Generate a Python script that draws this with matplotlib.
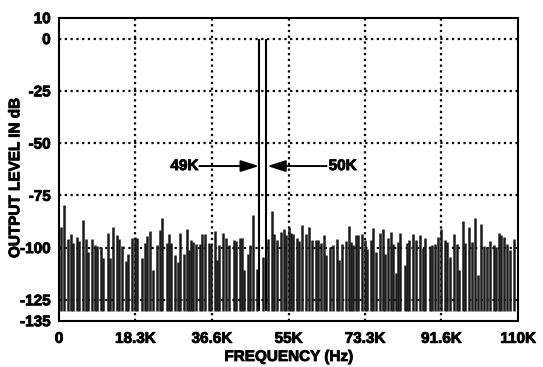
import matplotlib
matplotlib.use("Agg")
import matplotlib.pyplot as plt
import matplotlib.patheffects as pe

plt.rcParams['font.family'] = ['Liberation Sans', 'DejaVu Sans']
plt.rcParams['font.weight'] = 'bold'

# spur frequencies (kHz) and levels (dB)
spur_freq = [
    0.5, 1.3, 2.2, 2.9, 3.4, 4.2, 4.8, 5.8, 6.4, 7.0,
    8.0, 8.5, 9.0, 10.1, 10.6, 11.7, 12.2, 13.0, 13.8, 14.4,
    15.2, 16.1, 16.6, 17.6, 18.3, 18.8, 19.9, 20.5, 21.1, 21.9,
    22.6, 23.5, 24.1, 24.7, 25.8, 26.3, 26.9, 27.9, 28.5, 29.0,
    29.9, 30.6, 31.1, 31.7, 32.2, 32.9, 33.8, 34.3, 34.9, 35.9,
    36.5, 37.4, 37.9, 38.4, 39.4, 40.1, 40.7, 41.8, 42.3, 43.4,
    43.9, 44.4, 45.2, 45.8, 46.4, 47.4, 48.8, 50.1, 51.0, 51.6,
    52.2, 53.2, 53.9, 54.4, 55.1, 55.6, 56.0, 57.0, 57.5, 58.2,
    59.2, 59.8, 60.7, 61.5, 62.0, 62.8, 63.4, 64.0, 64.8, 65.6,
    66.5, 67.1, 67.9, 68.8, 69.5, 70.0, 70.5, 71.2, 71.6, 72.7,
    73.2, 73.7, 74.8, 75.3, 75.9, 76.9, 77.5, 78.0, 78.9, 79.6,
    80.1, 80.7, 81.2, 81.7, 82.8, 83.3, 83.9, 84.9, 85.5, 86.5,
    87.1, 87.7, 88.8, 89.3, 90.0, 90.9, 91.4, 92.4, 93.0, 93.6,
    94.6, 95.3, 95.8, 96.8, 97.3, 98.2, 98.9, 99.6, 100.4, 101.2,
    101.7, 102.5, 103.3, 104.2, 104.8, 105.4, 106.0, 106.6, 107.3, 108.1,
    108.9,
]
spur_db = [
    -90.0, -79.6, -95.7, -93.3, -98.0, -95.0, -97.0, -86.9, -95.7, -102.0,
    -96.0, -99.0, -99.4, -99.7, -105.0, -93.0, -104.8, -90.0, -94.0, -96.0,
    -99.4, -106.4, -103.2, -95.2, -95.0, -95.2, -105.0, -97.6, -94.6, -92.0,
    -110.9, -98.9, -91.7, -85.7, -97.6, -93.3, -97.6, -103.7, -106.9, -92.8,
    -103.2, -91.3, -101.3, -96.2, -97.4, -98.4, -98.1, -93.6, -93.3, -97.8,
    -98.1, -92.1, -105.8, -98.9, -92.8, -95.2, -98.9, -96.5, -96.8, -95.2,
    -95.2, -110.6, -102.9, -98.9, -84.5, -110.1, -104.5, -95.7, -82.4, -93.3,
    -96.5, -92.5, -90.9, -93.8, -90.1, -92.8, -93.3, -95.2, -96.8, -89.3,
    -93.6, -90.1, -96.5, -96.5, -96.5, -97.8, -94.1, -103.7, -99.7, -98.6,
    -95.7, -106.1, -98.1, -96.8, -89.6, -97.4, -98.9, -94.1, -94.1, -93.6,
    -96.5, -100.5, -96.2, -90.5, -102.1, -92.8, -91.2, -102.9, -95.2, -92.5,
    -98.1, -112.2, -97.4, -92.8, -108.5, -97.6, -96.5, -93.3, -96.5, -93.8,
    -100.0, -95.2, -99.2, -98.9, -98.1, -94.9, -91.3, -96.5, -97.4, -104.5,
    -93.3, -98.1, -110.6, -87.2, -97.8, -90.1, -97.3, -85.7, -113.3, -88.8,
    -99.4, -99.7, -96.8, -98.9, -99.7, -92.8, -93.8, -94.9, -98.1, -101.0,
    -95.7,
]

# the two input tones
tone_freq = [48.0, 49.6]
tone_db = [0.0, 0.0]
noise_floor = -130.5

xticks = [0, 18.3, 36.6, 55, 73.3, 91.6, 110]
xtick_labels = ['0', '18.3K', '36.6K', '55K', '73.3K', '91.6K', '110K']
yticks = [10, 0, -25, -50, -75, -100, -125, -135]
grid_y = [0, -25, -50, -75, -100, -125]
grid_x = [18.3, 36.6, 55, 73.3, 91.6]

# a thin outline makes the text look as heavy as the printed original
heavy = [pe.withStroke(linewidth=0.6, foreground='black')]

fig = plt.figure(figsize=(5.43, 3.67), dpi=100)
ax = fig.add_axes([0.1087, 0.1262, 0.8456, 0.8256])

# dotted grid behind the spurs
for gy in grid_y:
    ax.axhline(gy, color='black', lw=1.6, ls=(0, (1, 1.6)), zorder=1)
for gx in grid_x:
    ax.axvline(gx, color='black', lw=1.6, ls=(0, (1, 1.6)), zorder=1)

ax.vlines(spur_freq, noise_floor, spur_db, color='#1c1c1c', lw=1.8, zorder=2)
ax.vlines(tone_freq, noise_floor, tone_db, color='black', lw=1.5, zorder=3)

# arrows pointing at the tones
arrow_kw = dict(arrowstyle='-|>,head_length=1.1,head_width=0.35',
                color='black', lw=1.4, shrinkA=0, shrinkB=0)
ax.annotate('', xy=(tone_freq[0] - 0.1, -61), xytext=(33.6, -61),
            arrowprops=arrow_kw, zorder=4)
ax.annotate('', xy=(tone_freq[1] + 0.3, -61), xytext=(64.1, -61),
            arrowprops=arrow_kw, zorder=4)
ax.text(33.4, -61, '49K', ha='right', va='center', fontsize=11,
        fontweight='bold', zorder=4, path_effects=heavy)
ax.text(64.6, -61, '50K', ha='left', va='center', fontsize=11,
        fontweight='bold', zorder=4, path_effects=heavy)

ax.set_xlim(0, 110)
ax.set_ylim(-135, 10)
ax.set_xticks(xticks)
ax.set_xticklabels(xtick_labels)
ax.set_yticks(yticks)
ax.set_yticklabels([str(v) for v in yticks])
ax.tick_params(length=0, labelsize=11)
ax.tick_params(axis='x', pad=8)
ax.tick_params(axis='y', pad=6)
for lab in ax.get_xticklabels() + ax.get_yticklabels():
    lab.set_fontweight('bold')
    lab.set_path_effects(heavy)

for sp in ax.spines.values():
    sp.set_linewidth(1.5)
    sp.set_zorder(5)

ax.set_xlabel('FREQUENCY (Hz)', fontsize=11, fontweight='bold', labelpad=3,
              path_effects=heavy)
ax.set_ylabel('OUTPUT LEVEL IN dB', fontsize=11, fontweight='bold',
              path_effects=heavy)
ax.yaxis.set_label_coords(-0.08, 0.47)

fig.savefig('out.png', dpi=100)
